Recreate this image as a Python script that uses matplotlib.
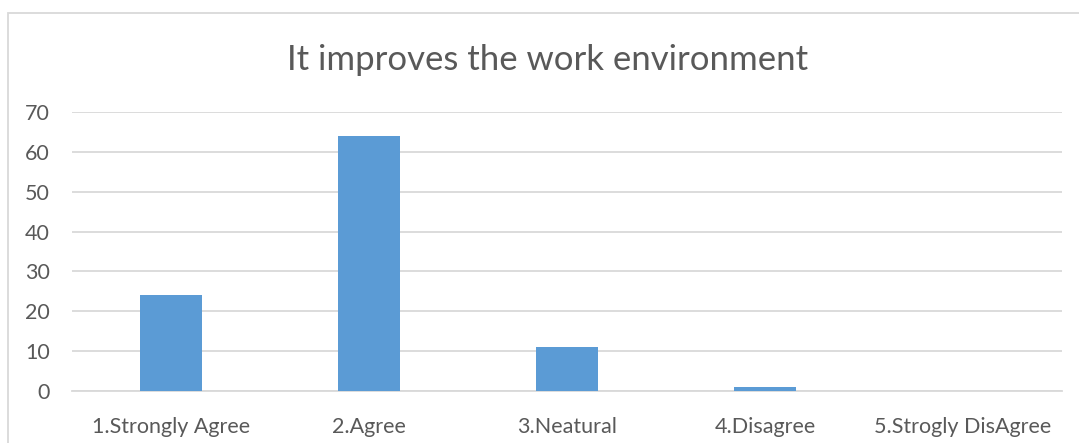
import matplotlib.pyplot as plt
from matplotlib.patches import Rectangle

categories = ['1.Strongly Agree', '2.Agree', '3.Neatural', '4.Disagree', '5.Strogly DisAgree']
counts = [24, 64, 11, 1, 0]
y_ticks = [0, 10, 20, 30, 40, 50, 60, 70]

text_color = '#595959'
grid_color = '#d9d9d9'
bar_color = '#5b9bd5'

plt.rcParams['font.family'] = ['Lato', 'DejaVu Sans']

fig = plt.figure(figsize=(10.79, 4.43), dpi=100)
ax = fig.add_axes([72 / 1079, 1 - 391 / 443, 990 / 1079, 279 / 443])

x = range(len(categories))
ax.bar(x, counts, width=0.31, color=bar_color, zorder=3)

ax.set_xlim(-0.5, len(categories) - 0.5)
ax.set_ylim(0, 70)
ax.set_yticks(y_ticks)
ax.set_xticks(list(x))
ax.set_xticklabels(categories)
ax.yaxis.grid(True, color=grid_color, linewidth=1.3, zorder=0)
ax.tick_params(axis='both', length=0, labelsize=15.5, colors=text_color)
ax.tick_params(axis='y', pad=16)
ax.tick_params(axis='x', pad=18.5)
for side in ['top', 'right', 'left']:
    ax.spines[side].set_visible(False)
ax.spines['bottom'].set_color(grid_color)
ax.spines['bottom'].set_linewidth(1.3)

fig.text(548 / 1079, 1 - 60 / 443, 'It improves the work environment',
         ha='center', va='center', fontsize=25, color=text_color)

# light frame around the chart area
fig.patches.append(Rectangle((8 / 1079, -0.1), 1.1, 1.1 - 13 / 443,
                             transform=fig.transFigure, fill=False,
                             edgecolor=grid_color, linewidth=1.3))

fig.savefig('out.png', dpi=100, facecolor='white')
